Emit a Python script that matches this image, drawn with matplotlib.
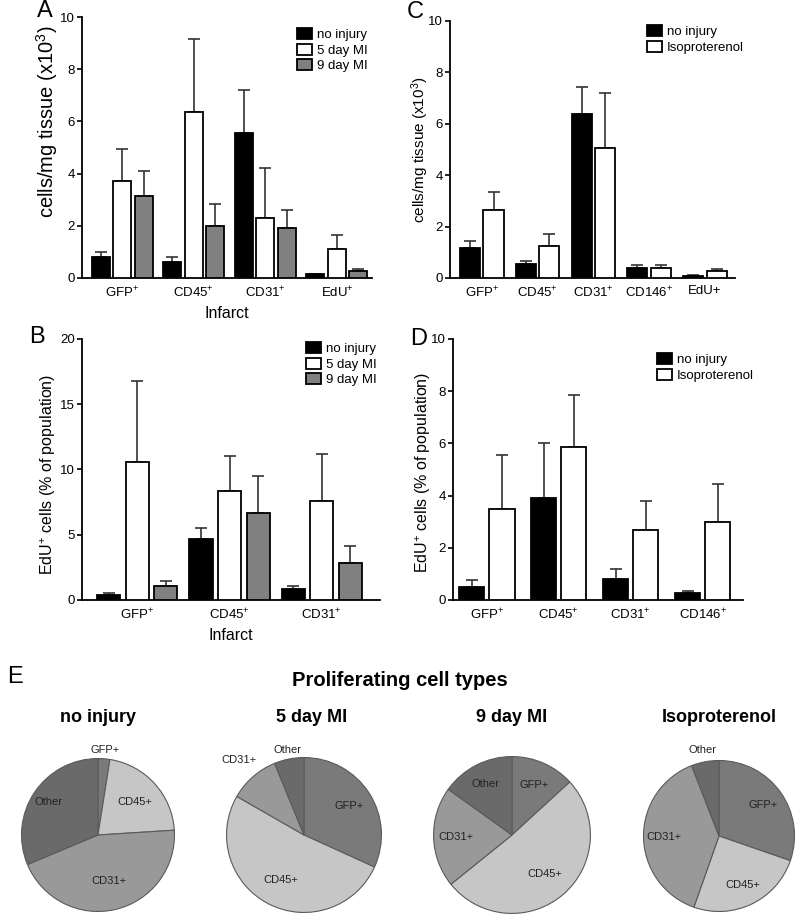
import numpy as np
import matplotlib

matplotlib.use("Agg")
import matplotlib.pyplot as plt

plt.rcParams["font.family"] = ["Liberation Sans", "DejaVu Sans"]
plt.rcParams["mathtext.fontset"] = "custom"
plt.rcParams["mathtext.rm"] = "Liberation Sans"
plt.rcParams["mathtext.it"] = "Liberation Sans:italic"
plt.rcParams["mathtext.bf"] = "Liberation Sans:bold"

W, H = 800, 916

# ---- data ----
A_cats = ["GFP$^{+}$", "CD45$^{+}$", "CD31$^{+}$", "EdU$^{+}$"]
A_series = ["no injury", "5 day MI", "9 day MI"]
A_noinj = [0.8, 0.6, 5.55, 0.15]
A_5d = [3.7, 6.35, 2.3, 1.1]
A_9d = [3.15, 2.0, 1.9, 0.25]
A_noinj_top = [1.0, 0.8, 7.2, 0.17]
A_5d_top = [4.95, 9.15, 4.2, 1.65]
A_9d_top = [4.1, 2.85, 2.6, 0.33]

C_cats = ["GFP$^{+}$", "CD45$^{+}$", "CD31$^{+}$", "CD146$^{+}$", "EdU+"]
C_series = ["no injury", "Isoproterenol"]
C_noinj = [1.15, 0.55, 6.4, 0.37, 0.08]
C_iso = [2.65, 1.25, 5.05, 0.38, 0.28]
C_noinj_top = [1.45, 0.68, 7.45, 0.5, 0.1]
C_iso_top = [3.35, 1.72, 7.2, 0.52, 0.35]

B_cats = ["GFP$^{+}$", "CD45$^{+}$", "CD31$^{+}$"]
B_noinj = [0.4, 4.7, 0.85]
B_5d = [10.6, 8.35, 7.6]
B_9d = [1.05, 6.7, 2.85]
B_noinj_top = [0.55, 5.5, 1.1]
B_5d_top = [16.75, 11.0, 11.15]
B_9d_top = [1.45, 9.5, 4.15]

D_cats = ["GFP$^{+}$", "CD45$^{+}$", "CD31$^{+}$", "CD146$^{+}$"]
D_noinj = [0.5, 3.9, 0.8, 0.28]
D_iso = [3.5, 5.85, 2.7, 3.0]
D_noinj_top = [0.75, 6.0, 1.2, 0.35]
D_iso_top = [5.55, 7.85, 3.8, 4.45]

pie_titles = ["no injury", "5 day MI", "9 day MI", "Isoproterenol"]
pie_labels = ["GFP+", "CD45+", "CD31+", "Other"]
pie_noinj = [2.5, 21.5, 44.7, 31.3]
pie_5d = [31.8, 51.5, 10.5, 6.2]
pie_9d = [13.2, 51.0, 20.7, 15.1]
pie_iso = [30.3, 25.1, 38.7, 5.9]

BAR_COLORS = ["black", "white", "#808080"]
PIE_COLORS = ["#7a7a7a", "#c6c6c6", "#999999", "#6a6a6a"]

fig = plt.figure(figsize=(W / 100, H / 100), dpi=100)


def px_axes(x0, y0, x1, y1):
    return fig.add_axes([x0 / W, 1 - y1 / H, (x1 - x0) / W, (y1 - y0) / H])


def bar_panel(box, cats, series, vals, tops, width, offsets, xlim, ylim, yticks,
              ylabel, ylsize, ylpad, yly, xlabel, leg_xy):
    ax = px_axes(*box)
    x = np.arange(len(cats))
    handles = []
    for i, (v, t) in enumerate(zip(vals, tops)):
        v = np.array(v)
        t = np.array(t)
        b = ax.bar(x + offsets[i], v, width, color=BAR_COLORS[i], edgecolor="black",
                   linewidth=1.3, zorder=3, label=series[i])
        ax.errorbar(x + offsets[i], v, yerr=[np.zeros_like(v), t - v], fmt="none",
                    ecolor="#333333", elinewidth=1.2, capsize=4, capthick=1.2, zorder=2)
        handles.append(b)
    ax.set_xlim(*xlim)
    ax.set_ylim(*ylim)
    ax.set_yticks(yticks)
    ax.set_xticks(x)
    ax.set_xticklabels(cats, fontsize=9.5)
    ax.tick_params(axis="y", labelsize=9.5, width=1.2, length=3.5, pad=1.5)
    ax.tick_params(axis="x", length=0, pad=5)
    for s in ("top", "right"):
        ax.spines[s].set_visible(False)
    for s in ("left", "bottom"):
        ax.spines[s].set_linewidth(1.3)
    ax.set_ylabel(ylabel, fontsize=ylsize, labelpad=ylpad)
    ax.yaxis.label.set_y(yly)
    if xlabel:
        ax.set_xlabel(xlabel, fontsize=11.5, labelpad=4)
    ax.legend(handles=handles, loc="upper left",
              bbox_to_anchor=(leg_xy[0] / W, 1 - leg_xy[1] / H),
              bbox_transform=fig.transFigure, frameon=False, fontsize=9.5,
              handlelength=1.1, handleheight=0.9, handletextpad=0.4,
              labelspacing=0.2, borderpad=0, borderaxespad=0)
    return ax


bar_panel((82, 17, 372, 278), A_cats, A_series, [A_noinj, A_5d, A_9d],
          [A_noinj_top, A_5d_top, A_9d_top], 0.25, [-0.3, 0, 0.3], (-0.56, 3.49),
          (0, 10), [0, 2, 4, 6, 8, 10], "cells/mg tissue (x10$^{3}$)", 14.5, 0, 0.6,
          "Infarct", (297, 28))
bar_panel((450, 21, 735, 278), C_cats, C_series, [C_noinj, C_iso],
          [C_noinj_top, C_iso_top], 0.36, [-0.21, 0.21], (-0.57, 4.54),
          (0, 10), [0, 2, 4, 6, 8, 10], "cells/mg tissue (x10$^{3}$)", 11, -2, 0.5,
          None, (647, 25))
bar_panel((82, 339, 380, 600), B_cats, A_series, [B_noinj, B_5d, B_9d],
          [B_noinj_top, B_5d_top, B_9d_top], 0.25, [-0.31, 0, 0.31], (-0.6, 2.63),
          (0, 20), [0, 5, 10, 15, 20], "EdU$^{+}$ cells (% of population)", 11.5, 1.5, 0.48,
          "Infarct", (306, 342))
bar_panel((453, 339, 743, 600), D_cats, C_series, [D_noinj, D_iso],
          [D_noinj_top, D_iso_top], 0.35, [-0.21, 0.21], (-0.47, 3.56),
          (0, 10), [0, 2, 4, 6, 8, 10], "EdU$^{+}$ cells (% of population)", 11.5, -1.5, 0.49,
          None, (657, 353))

for letter, (lx, ly) in zip("ACBDE", [(45, 11), (415, 12), (37, 337), (419, 339), (15, 677)]):
    fig.text(lx / W, 1 - ly / H, letter, fontsize=17, ha="center", va="center")

fig.text(400 / W, 1 - 680 / H, "Proliferating cell types", fontsize=14.5,
         fontweight="bold", ha="center", va="center")

# ---- pies ----
pie_vals = [pie_noinj, pie_5d, pie_9d, pie_iso]
pie_centers = [(98, 835, 78), (304, 835, 79), (512, 835, 80), (719, 836, 77)]
pie_title_x = [98, 312, 512, 719]
label_dist = [[1.12, 0.65, 0.62, 0.78],
              [0.69, 0.66, 1.28, 1.12],
              [0.69, 0.65, 0.71, 0.73],
              [0.71, 0.72, 0.73, 1.16]]

for k, vals in enumerate(pie_vals):
    cx, cy, r = pie_centers[k]
    ax = px_axes(cx - r, cy - r, cx + r, cy + r)
    wedges, _ = ax.pie(vals, colors=PIE_COLORS, startangle=90, counterclock=False,
                       radius=1, wedgeprops=dict(edgecolor="#5a5a5a", linewidth=0.8))
    for w, lab, d in zip(wedges, pie_labels, label_dist[k]):
        ang = np.deg2rad((w.theta1 + w.theta2) / 2)
        ax.text(d * np.cos(ang), d * np.sin(ang), lab, fontsize=8, ha="center",
                va="center", color="#222222")
    ax.set_xlim(-1.02, 1.02)
    ax.set_ylim(-1.02, 1.02)
    ax.set_aspect("equal")
    ax.axis("off")
    fig.text(pie_title_x[k] / W, 1 - 717 / H, pie_titles[k], fontsize=13,
             fontweight="bold", ha="center", va="center")

fig.savefig("out.png", dpi=100)
